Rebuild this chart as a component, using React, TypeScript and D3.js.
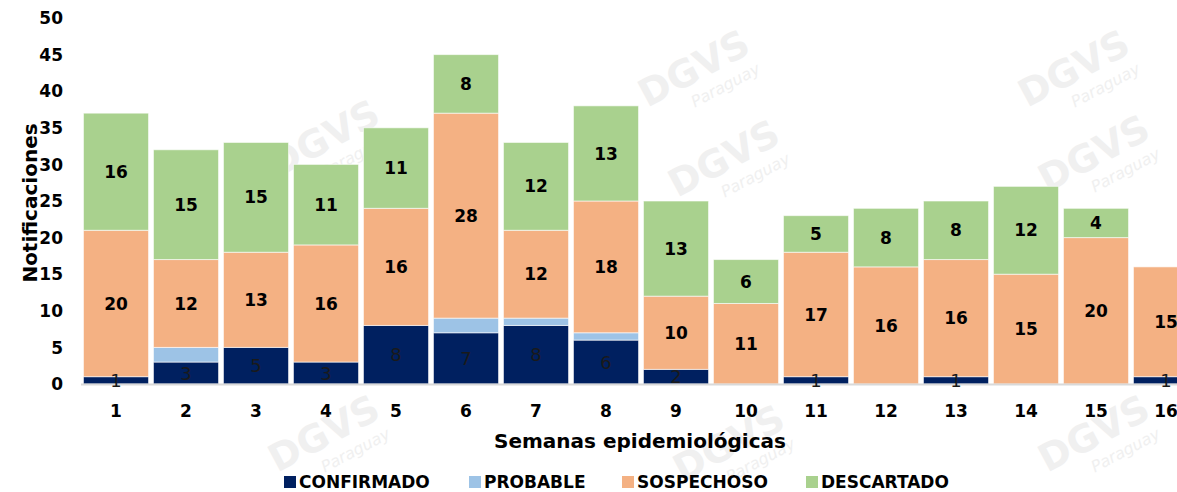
import React from "react";
import * as d3 from "d3";

const weeks = ["1","2","3","4","5","6","7","8","9","10","11","12","13","14","15","16"];
const confirmado = [1,3,5,3,8,7,8,6,2,0,1,0,1,0,0,1];
const probable =   [0,2,0,0,0,2,1,1,0,0,0,0,0,0,0,0];
const sospechoso = [20,12,13,16,16,28,12,18,10,11,17,16,16,15,20,15];
const descartado = [16,15,15,11,11,8,12,13,13,6,5,8,8,12,4,0];
const yTicks = [0,5,10,15,20,25,30,35,40,45,50];

const seriesNames = ["CONFIRMADO","PROBABLE","SOSPECHOSO","DESCARTADO"];
const seriesColors = ["#002060","#9DC3E6","#F4B183","#A9D18E"];
const FONT = "'DejaVu Sans', sans-serif";

export default function App() {
  const W = 1177, H = 492;
  const x = d3.scaleBand<string>().domain(weeks).range([81, 1201]).paddingInner(0.07).paddingOuter(0.035);
  const y = d3.scaleLinear().domain([0, 50]).range([384, 18]);
  const rows = weeks.map((w, i) => ({
    week: w,
    CONFIRMADO: confirmado[i],
    PROBABLE: probable[i],
    SOSPECHOSO: sospechoso[i],
    DESCARTADO: descartado[i],
  }));
  const stack = d3.stack<any>().keys(seriesNames)(rows);

  const marks = [
    { x: 700, y: 80 }, { x: 1080, y: 80 }, { x: 730, y: 170 }, { x: 1100, y: 165 },
    { x: 330, y: 150 }, { x: 330, y: 445 }, { x: 735, y: 455 }, { x: 1100, y: 445 },
  ];

  const legendX = [284, 469, 622, 806];

  return (
    <svg width={W} height={H} style={{ position: "absolute", left: 0, top: 0, background: "#fff" }} fontFamily={FONT}>
      {marks.map((m, i) => (
        <g key={i} transform={`translate(${m.x},${m.y}) rotate(-28)`}>
          <text textAnchor="middle" fontSize={38} fontWeight="bold" fill="#f0f0f0">DGVS</text>
          <text x={20} y={22} textAnchor="middle" fontSize={16} fontStyle="italic" fill="#f0f0f0">Paraguay</text>
        </g>
      ))}
      {stack.map((s, si) => (
        <g key={si} fill={seriesColors[si]}>
          {s.map((d, i) => {
            const h = y(d[0]) - y(d[1]);
            if (h <= 0) return null;
            return (
              <rect key={i} x={x(weeks[i])!} y={y(d[1])} width={x.bandwidth()} height={h}
                stroke="rgba(255,255,255,0.6)" strokeWidth={1} />
            );
          })}
        </g>
      ))}
      <line x1={81} x2={W} y1={384.5} y2={384.5} stroke="#d9d9d9" strokeWidth={2} />
      {stack.map((s, si) => (
        <g key={"l" + si}>
          {s.map((d, i) => {
            const v = d[1] - d[0];
            if (v <= 0 || si === 1) return null;
            const cx = x(weeks[i])! + x.bandwidth() / 2;
            const cy = (y(d[0]) + y(d[1])) / 2;
            const bold = si !== 0;
            return (
              <text key={i} x={cx} y={cy} dy="0.36em" textAnchor="middle"
                fontSize={bold ? 17 : 18} fontWeight={bold ? "bold" : "normal"} fill={bold ? "#000" : "#1a1a1a"}>
                {v}
              </text>
            );
          })}
        </g>
      ))}
      {yTicks.map((t) => (
        <text key={t} x={63} y={y(t)} dy="0.36em" textAnchor="end" fontSize={17} fontWeight="bold" fill="#000">{t}</text>
      ))}
      {weeks.map((w) => (
        <text key={w} x={x(w)! + x.bandwidth() / 2} y={411} dy="0.36em" textAnchor="middle" fontSize={17} fontWeight="bold" fill="#000">{w}</text>
      ))}
      <text x={640} y={441} dy="0.36em" textAnchor="middle" fontSize={20} fontWeight="bold" fill="#000">Semanas epidemiológicas</text>
      <text transform={`translate(30,203) rotate(-90)`} dy="0.36em" textAnchor="middle" fontSize={20} fontWeight="bold" fill="#000">Notificaciones</text>
      {seriesNames.map((n, i) => (
        <g key={n} transform={`translate(${legendX[i]},482)`}>
          <rect x={0} y={-6} width={12} height={12} fill={seriesColors[i]} />
          <text x={15} y={0} dy="0.36em" fontSize={17} fontWeight="bold" fill="#000">{n}</text>
        </g>
      ))}
    </svg>
  );
}
